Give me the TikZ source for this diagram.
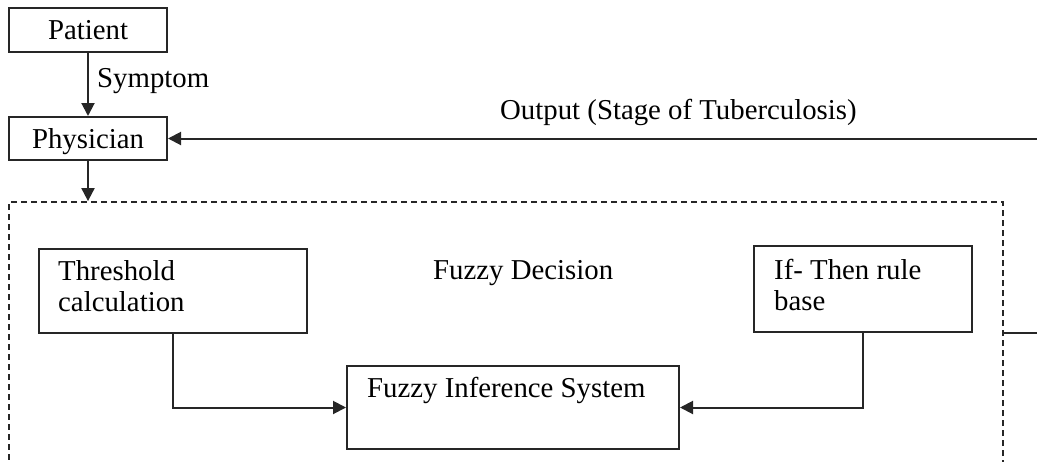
\documentclass[tikz,border=0pt]{standalone}
\usepackage{fontspec}
\setmainfont{Liberation Serif}
\usetikzlibrary{arrows.meta,calc}

\tikzset{
  box/.style={draw=black!85, line width=2pt, rectangle, inner sep=0pt,
              text height=19pt, text depth=0pt},
  lbl/.style={inner sep=0pt, align=left},
  conn/.style={draw=black!85, line width=2pt},
  arr/.style={conn, -{Triangle[length=13pt,width=13pt]}},
  frame/.style={draw=black!85, line width=1.8pt, dash pattern=on 6pt off 4pt,
                rectangle, inner sep=0pt}
}

\begin{document}
\begin{tikzpicture}[x=1pt, y=-1pt, font=\fontsize{28.8}{31}\selectfont]
  \useasboundingbox (0,0) rectangle (1037,461);
  \clip (0,0) rectangle (1037,461);

  % top chain
  \node[box, minimum width=158pt, minimum height=44pt] (pat) at (88,30) {Patient};
  \node[box, minimum width=158pt, minimum height=43pt] (phy) at (88,138.5) {Physician};
  \node[lbl, anchor=base west] (sym) at (97,87) {Symptom};
  \draw[arr] (pat.south) -- (phy.north);

  % fuzzy decision frame (runs past the lower edge)
  \node[frame, minimum width=994pt, minimum height=320pt] (dec) at (506,362) {};
  \node[lbl, anchor=base west] (declbl) at (433,279) {Fuzzy Decision};
  \draw[arr] (phy.south) -- (phy.south |- dec.north);

  % output feedback
  \coordinate (outR) at (1037,138.5);
  \node[lbl, anchor=base west] (outlbl) at (500,119) {Output (Stage of Tuberculosis)};
  \draw[arr] (outR) -- (phy.east);

  \coordinate (decR) at (1037,333);
  \draw[conn] (dec.east |- decR) -- (decR);

  % inner blocks (two-line labels are placed by their last baseline)
  \node[box, minimum width=268pt, minimum height=84pt] (thr) at (173,291) {};
  \node[lbl, anchor=base west] (thrlbl) at (58,311) {Threshold\\calculation};

  \node[box, minimum width=218pt, minimum height=86pt] (ift) at (863,289) {};
  \node[lbl, anchor=base west] (iftlbl) at (774,310) {If- Then rule\\base};

  \node[box, minimum width=332pt, minimum height=83pt] (fis) at (513,407.5) {};
  \node[lbl, anchor=base west] (fislbl) at (367,397) {Fuzzy Inference System};

  \draw[arr] (thr.south) |- (fis.west);
  \draw[arr] (ift.south) |- (fis.east);
\end{tikzpicture}
\end{document}
